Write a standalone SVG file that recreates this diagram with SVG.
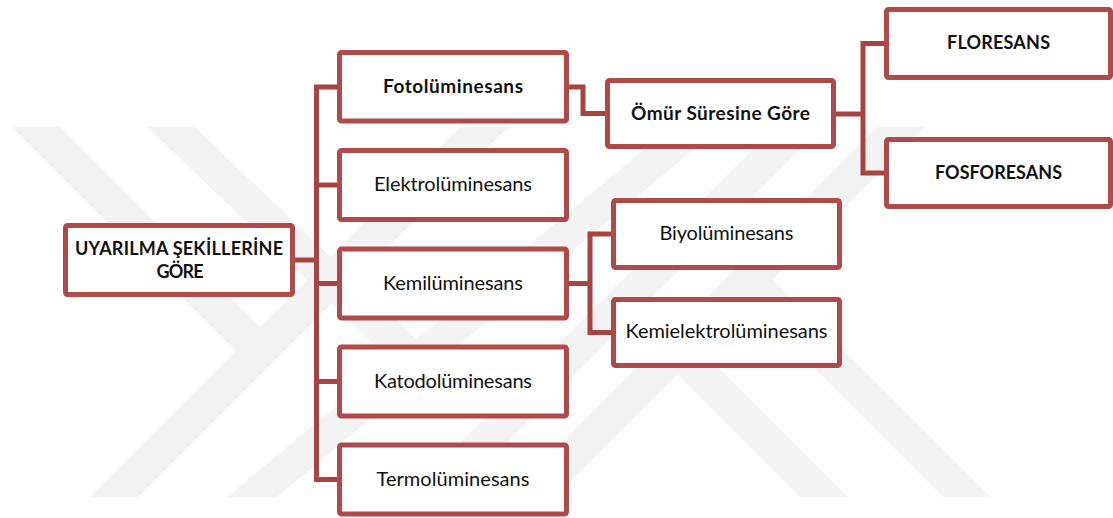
<svg xmlns="http://www.w3.org/2000/svg" width="1113" height="518" viewBox="0 0 1113 518">
  <style>
    .box { fill: #ffffff; stroke: #b04a48; stroke-width: 5; }
    .wm { fill: #f3f3f3; }
    .conn { fill: none; stroke: #a8443f; stroke-width: 5; stroke-linejoin: miter; }
    .t { font-family: Lato, "Liberation Sans", sans-serif; font-size: 20px; fill: #111111; text-anchor: middle; }
    .b { font-weight: bold; font-size: 19px; }
    .caps { font-size: 18px; }
  </style>
  <rect x="0" y="0" width="1113" height="518" fill="#ffffff"/>
  <g id="watermark">
    <polygon class="wm" points="90,497 138,497 508,127 460,127"/>
    <polygon class="wm" points="12,127 60,127 284,351 236,351"/>
    <polygon class="wm" points="227,497 277,497 721,127 671,127"/>
    <polygon class="wm" points="147,127 195,127 430,352 382,352"/>
    <polygon class="wm" points="405,497 453,497 823,127 775,127"/>
    <polygon class="wm" points="602.5,299.5 650.5,299.5 848,497 800,497"/>
    <polygon class="wm" points="507,497 555,497 925,127 877,127"/>
    <polygon class="wm" points="725,279 773,279 991,497 943,497"/>
  </g>
  <g id="connectors">
    <path class="conn" d="M295 260 H316.5"/>
    <path class="conn" d="M339 87 H316.5 V479.5 H339"/>
    <path class="conn" d="M316.5 185 H339"/>
    <path class="conn" d="M316.5 283.5 H339"/>
    <path class="conn" d="M316.5 381.5 H339"/>
    <path class="conn" d="M569 87 H583 V113.5 H605"/>
    <path class="conn" d="M836 114 H863"/>
    <path class="conn" d="M884 43.5 H863 V173 H884"/>
    <path class="conn" d="M569 283.5 H590"/>
    <path class="conn" d="M611 234 H590 V332.5 H611"/>
  </g>
  <g id="root">
    <rect class="box" x="65.5" y="225.5" width="227" height="69" rx="2"/>
    <text class="t b caps" x="179" y="255" textLength="208" lengthAdjust="spacing">UYARILMA ŞEKİLLERİNE</text>
    <text class="t b caps" x="180" y="278" textLength="47" lengthAdjust="spacing">GÖRE</text>
  </g>
  <g id="fotoluminesans">
    <rect class="box" x="339.5" y="52.5" width="227" height="68.5" rx="2"/>
    <text class="t b" x="453" y="93" textLength="140" lengthAdjust="spacing">Fotolüminesans</text>
  </g>
  <g id="elektroluminesans">
    <rect class="box" x="339.5" y="150.5" width="227" height="69" rx="2"/>
    <text class="t" x="453" y="191" textLength="158" lengthAdjust="spacing">Elektrolüminesans</text>
  </g>
  <g id="kemiluminesans">
    <rect class="box" x="339.5" y="249" width="227" height="69" rx="2"/>
    <text class="t" x="453" y="289.5" textLength="140" lengthAdjust="spacing">Kemilüminesans</text>
  </g>
  <g id="katodoluminesans">
    <rect class="box" x="339.5" y="347" width="227" height="69" rx="2"/>
    <text class="t" x="453" y="387.5" textLength="158" lengthAdjust="spacing">Katodolüminesans</text>
  </g>
  <g id="termoluminesans">
    <rect class="box" x="339.5" y="445" width="227" height="69" rx="2"/>
    <text class="t" x="453" y="485.5" textLength="153" lengthAdjust="spacing">Termolüminesans</text>
  </g>
  <g id="omur">
    <rect class="box" x="607.5" y="80.5" width="226" height="66" rx="2"/>
    <text class="t b" x="720.5" y="120" textLength="179" lengthAdjust="spacing">Ömür Süresine Göre</text>
  </g>
  <g id="floresans">
    <rect class="box" x="886.5" y="9.5" width="224" height="68" rx="2"/>
    <text class="t b caps" x="998.5" y="49" textLength="103" lengthAdjust="spacing">FLORESANS</text>
  </g>
  <g id="fosforesans">
    <rect class="box" x="886.5" y="139.5" width="224" height="67" rx="2"/>
    <text class="t b caps" x="998.5" y="179" textLength="127" lengthAdjust="spacing">FOSFORESANS</text>
  </g>
  <g id="biyoluminesans">
    <rect class="box" x="613.5" y="200.5" width="226" height="67" rx="2"/>
    <text class="t" x="726.5" y="240" textLength="134" lengthAdjust="spacing">Biyolüminesans</text>
  </g>
  <g id="kemielektroluminesans">
    <rect class="box" x="613.5" y="299.5" width="226" height="66" rx="2"/>
    <text class="t" x="726.5" y="338" textLength="202" lengthAdjust="spacing">Kemielektrolüminesans</text>
  </g>
</svg>
